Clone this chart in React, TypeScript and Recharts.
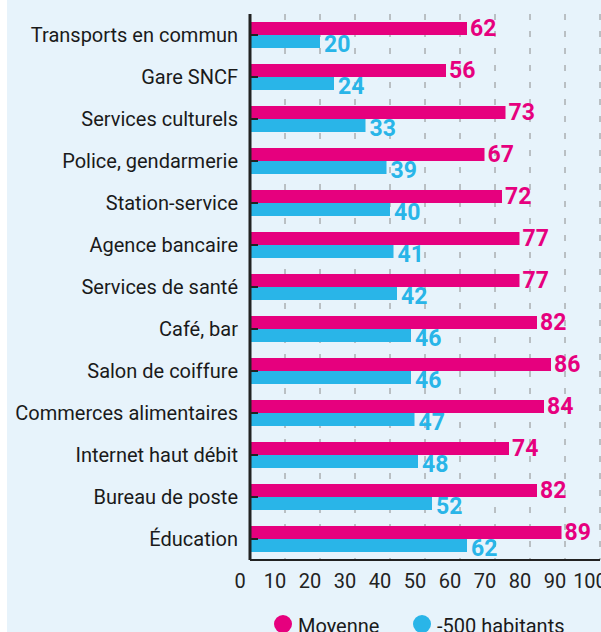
import { BarChart, Bar, XAxis, YAxis, CartesianGrid, Legend, LabelList } from "recharts";

const CATEGORIES = [
  "Transports en commun",
  "Gare SNCF",
  "Services culturels",
  "Police, gendarmerie",
  "Station-service",
  "Agence bancaire",
  "Services de santé",
  "Café, bar",
  "Salon de coiffure",
  "Commerces alimentaires",
  "Internet haut débit",
  "Bureau de poste",
  "Éducation",
];
const MOYENNE = [62, 56, 73, 67, 72, 77, 77, 82, 86, 84, 74, 82, 89];
const MOINS_500 = [20, 24, 33, 39, 40, 41, 42, 46, 46, 47, 48, 52, 62];
const X_TICKS = [0, 10, 20, 30, 40, 50, 60, 70, 80, 90, 100];

const PINK = "#e6007e";
const BLUE = "#29b5e8";
const FONT = "Roboto, sans-serif";

const data = CATEGORIES.map((name, i) => ({ name, moyenne: MOYENNE[i], moins500: MOINS_500[i] }));

const legendItems = [
  { label: "Moyenne", color: PINK },
  { label: "-500 habitants", color: BLUE },
];

function YTick({ x, y, payload }: any) {
  return (
    <g>
      <line x1={x + 12} x2={x + 20} y1={y} y2={y} stroke="#222" strokeWidth={2} />
      <text x={x} y={y} textAnchor="end" dominantBaseline="central" fontSize={20} fill="#1a1a1a" fontFamily={FONT}>
        {payload.value}
      </text>
    </g>
  );
}

function XTick({ x, y, payload }: any) {
  return (
    <text x={x - 10} y={y} dy="0.71em" textAnchor="middle" fontSize={20} fill="#222" fontFamily={FONT}>
      {payload.value}
    </text>
  );
}

const valueLabel = (color: string, dy: number, dx: number) => (p: any) => (
  <text
    x={p.x + p.width + dx}
    y={p.y + p.height / 2 + dy}
    dominantBaseline="central"
    fill={color}
    fontSize={23}
    fontWeight={700}
    fontFamily={FONT}
  >
    {p.value}
  </text>
);

function LegendContent() {
  return (
    <div style={{ height: 42, position: "relative", fontFamily: FONT, fontSize: 20, color: "#1a1a1a" }}>
      {legendItems.map((it, i) => (
        <div
          key={it.label}
          style={{ position: "absolute", left: 267 + i * 139, top: 25, display: "flex", alignItems: "flex-start", whiteSpace: "nowrap" }}
        >
          <span style={{ width: 18, height: 18, borderRadius: 9, background: it.color, marginRight: 6, flex: "none" }} />
          <span style={{ lineHeight: "20px", marginTop: 1 }}>{it.label}</span>
        </div>
      ))}
    </div>
  );
}

export default function App() {
  return (
    <div style={{ position: "absolute", left: 7, top: 0, width: 594, height: 632, background: "#e7f3fb", overflow: "hidden" }}>
      <BarChart
        width={594}
        height={632}
        data={data}
        layout="vertical"
        margin={{ top: 14, right: 1, bottom: 0, left: 0 }}
        barGap={0}
        barCategoryGap={8}
      >
        <CartesianGrid horizontal={false} stroke="#8c8c8c" strokeDasharray="6 11" />
        <XAxis
          type="number"
          domain={[0, 100]}
          ticks={X_TICKS}
          interval={0}
          height={30}
          tickSize={0}
          tickMargin={14}
          tick={<XTick />}
          axisLine={{ stroke: "#222", strokeWidth: 2 }}
          tickLine={false}
        />
        <YAxis
          type="category"
          dataKey="name"
          width={243}
          tickSize={0}
          tickMargin={12}
          tick={<YTick />}
          axisLine={{ stroke: "#222", strokeWidth: 3 }}
          tickLine={false}
          interval={0}
        />
        <Legend verticalAlign="bottom" align="left" content={<LegendContent />} />
        <Bar dataKey="moyenne" fill={PINK} isAnimationActive={false}>
          <LabelList dataKey="moyenne" content={valueLabel(PINK, 0, 3)} />
        </Bar>
        <Bar dataKey="moins500" fill={BLUE} isAnimationActive={false}>
          <LabelList dataKey="moins500" content={valueLabel(BLUE, 3, 4)} />
        </Bar>
      </BarChart>
    </div>
  );
}
